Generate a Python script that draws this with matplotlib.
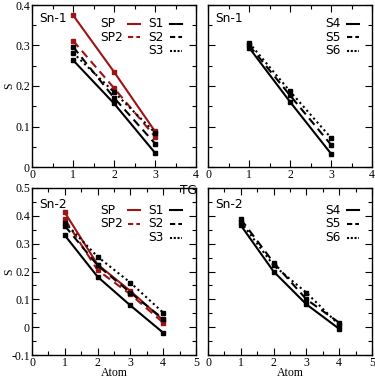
import matplotlib
matplotlib.use("Agg")
import matplotlib.pyplot as plt
from matplotlib.ticker import MultipleLocator, FuncFormatter
from matplotlib.lines import Line2D

# ---- data ----
atoms_sn1 = [1, 2, 3]
atoms_sn2 = [1, 2, 3, 4]

sn1_SP  = [0.375, 0.235, 0.088]
sn1_SP2 = [0.312, 0.195, 0.075]
sn1_S1  = [0.264, 0.157, 0.035]
sn1_S2  = [0.297, 0.171, 0.058]
sn1_S3  = [0.282, 0.185, 0.085]
sn1_S4  = [0.295, 0.161, 0.033]
sn1_S5  = [0.301, 0.177, 0.055]
sn1_S6  = [0.307, 0.187, 0.072]

sn2_SP  = [0.412, 0.225, 0.130, 0.025]
sn2_SP2 = [0.388, 0.205, 0.118, 0.016]
sn2_S1  = [0.330, 0.181, 0.078, -0.020]
sn2_S2  = [0.364, 0.222, 0.124, 0.030]
sn2_S3  = [0.376, 0.253, 0.160, 0.052]
sn2_S4  = [0.366, 0.200, 0.082, -0.006]
sn2_S5  = [0.388, 0.232, 0.100, 0.016]
sn2_S6  = [0.378, 0.222, 0.124, 0.008]

RED = '#9c1414'
BLK = 'black'
SERIF = 'Liberation Serif'
SANS = 'DejaVu Sans'
FS_TXT = 8.8
FS_TICK = 8.5

W, H = 375, 379
fig = plt.figure(figsize=(W/100, H/100), dpi=100)

def rect(l, r, t, b):
    return [l/W, 1-b/H, (r-l)/W, (b-t)/H]

ax_tl = fig.add_axes(rect(32, 196, 5, 167))
ax_tr = fig.add_axes(rect(208, 372, 5, 167))
ax_bl = fig.add_axes(rect(32, 196, 188, 355))
ax_br = fig.add_axes(rect(208, 372, 188, 355))

fmt = FuncFormatter(lambda v, p: ('%g' % round(v, 3)))

def style(ax, xmax, ylim, ylab):
    ax.set_xlim(0, xmax)
    ax.set_ylim(*ylim)
    ax.xaxis.set_major_locator(MultipleLocator(1))
    ax.xaxis.set_minor_locator(MultipleLocator(0.5))
    ax.yaxis.set_major_locator(MultipleLocator(0.1))
    ax.yaxis.set_minor_locator(MultipleLocator(0.05))
    ax.yaxis.set_major_formatter(fmt)
    ax.tick_params(which='both', direction='in', top=True, right=True, width=0.8)
    ax.tick_params(which='major', length=5, labelsize=FS_TICK, pad=1.5)
    ax.tick_params(which='minor', length=3)
    for lab in ax.get_xticklabels() + ax.get_yticklabels():
        lab.set_fontfamily(SERIF)
    if not ylab:
        ax.tick_params(labelleft=False)
    for s in ax.spines.values():
        s.set_linewidth(1.0)

DASH = {'-': None, '--': (4, 2.5), ':': (1, 1.5)}

def plot(ax, x, y, color, ls):
    line, = ax.plot(x, y, color=color, ls='-', lw=1.5, marker='s', ms=3.0)
    if DASH[ls] is not None:
        line.set_dashes(DASH[ls])

def legend(ax, x0, items, y0, dy, tx_w):
    # text label followed by line sample, like Grace legends
    for i, (lab, color, ls) in enumerate(items):
        y = y0 - i*dy
        ax.text(x0, y, lab, transform=ax.transAxes, fontsize=FS_TXT,
                family=SANS, va='center', ha='left')
        ln = Line2D([x0+tx_w, x0+tx_w+0.075], [y, y], color=color, lw=1.5,
                    transform=ax.transAxes)
        if ls == '--':
            ln.set_dashes((2.5, 1.5))
        elif ls == ':':
            ln.set_dashes((1, 0.8))
        ax.add_line(ln)

def ylabel(ax):
    ax.set_ylabel('S', family=SERIF, fontsize=FS_TICK)
    ax.yaxis.set_label_coords(-0.104, 0.5)

def xlabel(ax):
    ax.set_xlabel('Atom', family=SERIF, fontsize=FS_TICK, va='center')
    ax.xaxis.set_label_coords(0.5, -0.11)

# top-left
for y, c, ls in [(sn1_SP, RED, '-'), (sn1_SP2, RED, '--'), (sn1_S1, BLK, '-'),
                 (sn1_S2, BLK, '--'), (sn1_S3, BLK, ':')]:
    plot(ax_tl, atoms_sn1, y, c, ls)
style(ax_tl, 4, (0, 0.4), True)
ylabel(ax_tl)
ax_tl.text(0.045, 0.915, 'Sn-1', transform=ax_tl.transAxes, family=SANS, fontsize=FS_TXT, va='center')
legend(ax_tl, 0.415, [('SP', RED, '-'), ('SP2', RED, '--')], 0.883, 0.083, 0.17)
legend(ax_tl, 0.71, [('S1', BLK, '-'), ('S2', BLK, '--'), ('S3', BLK, ':')], 0.883, 0.083, 0.13)

# top-right
for y, c, ls in [(sn1_S4, BLK, '-'), (sn1_S5, BLK, '--'), (sn1_S6, BLK, ':')]:
    plot(ax_tr, atoms_sn1, y, c, ls)
style(ax_tr, 4, (0, 0.4), False)
ax_tr.text(0.045, 0.915, 'Sn-1', transform=ax_tr.transAxes, family=SANS, fontsize=FS_TXT, va='center')
legend(ax_tr, 0.715, [('S4', BLK, '-'), ('S5', BLK, '--'), ('S6', BLK, ':')], 0.883, 0.083, 0.13)

# bottom-left
for y, c, ls in [(sn2_SP, RED, '-'), (sn2_SP2, RED, '--'), (sn2_S1, BLK, '-'),
                 (sn2_S2, BLK, '--'), (sn2_S3, BLK, ':')]:
    plot(ax_bl, atoms_sn2, y, c, ls)
style(ax_bl, 5, (-0.1, 0.5), True)
ylabel(ax_bl)
xlabel(ax_bl)
ax_bl.text(0.045, 0.9, 'Sn-2', transform=ax_bl.transAxes, family=SANS, fontsize=FS_TXT, va='center')
legend(ax_bl, 0.415, [('SP', RED, '-'), ('SP2', RED, '--')], 0.868, 0.083, 0.17)
legend(ax_bl, 0.71, [('S1', BLK, '-'), ('S2', BLK, '--'), ('S3', BLK, ':')], 0.868, 0.083, 0.13)

# bottom-right
for y, c, ls in [(sn2_S4, BLK, '-'), (sn2_S5, BLK, '--'), (sn2_S6, BLK, ':')]:
    plot(ax_br, atoms_sn2, y, c, ls)
style(ax_br, 5, (-0.1, 0.5), False)
xlabel(ax_br)
ax_br.text(0.045, 0.9, 'Sn-2', transform=ax_br.transAxes, family=SANS, fontsize=FS_TXT, va='center')
legend(ax_br, 0.715, [('S4', BLK, '-'), ('S5', BLK, '--'), ('S6', BLK, ':')], 0.868, 0.083, 0.13)

fig.text(188/W, 1-191/H, 'TG', family=SANS, fontsize=FS_TXT, ha='center', va='center')

fig.savefig('out.png', dpi=100)
